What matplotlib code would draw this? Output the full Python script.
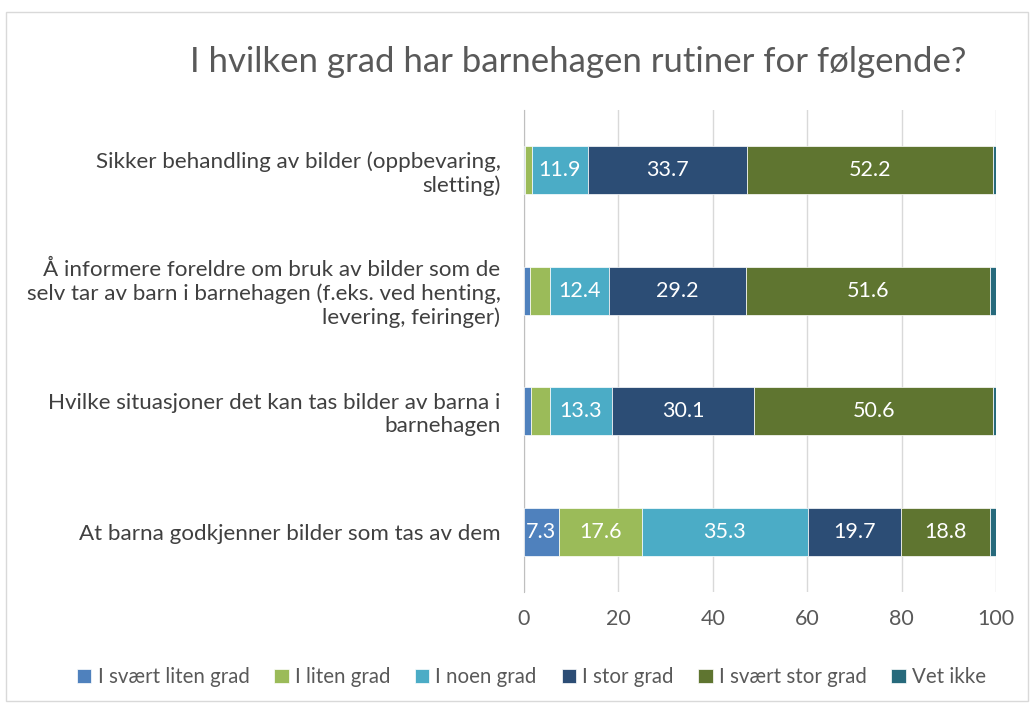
import matplotlib.pyplot as plt
from matplotlib.patches import Rectangle

plt.rcParams['font.family'] = ['Lato', 'DejaVu Sans']

categories = [
    "Sikker behandling av bilder (oppbevaring,\nsletting)",
    "Å informere foreldre om bruk av bilder som de\nselv tar av barn i barnehagen (f.eks. ved henting,\nlevering, feiringer)",
    "Hvilke situasjoner det kan tas bilder av barna i\nbarnehagen",
    "At barna godkjenner bilder som tas av dem",
]
series_names = ["I svært liten grad", "I liten grad", "I noen grad",
                "I stor grad", "I svært stor grad", "Vet ikke"]
svaert_liten = [0.2, 1.3, 1.5, 7.3]
liten = [1.4, 4.2, 3.9, 17.6]
noen = [11.9, 12.4, 13.3, 35.3]
stor = [33.7, 29.2, 30.1, 19.7]
svaert_stor = [52.2, 51.6, 50.6, 18.8]
vet_ikke = [0.6, 1.3, 0.6, 1.3]
colors = ["#4F81BD", "#9BBB59", "#4BACC6", "#2C4D75", "#5F7530", "#276A7C"]

series = [svaert_liten, liten, noen, stor, svaert_stor, vet_ikke]

fig = plt.figure(figsize=(10.32, 7.07), dpi=100)
fig.patches.append(Rectangle((0.006, 0.008), 0.99, 0.975, transform=fig.transFigure,
                             fill=False, edgecolor="#D9D9D9", linewidth=1))
ax = fig.add_axes([0.5078, 0.1627, 0.4574, 0.682])

ypos = list(range(len(categories)))
left = [0.0] * len(categories)
for name, vals, col in zip(series_names, series, colors):
    bars = ax.barh(ypos, vals, left=left, height=0.4, color=col, label=name,
                   edgecolor="white", linewidth=0.5, zorder=3)
    for b, v in zip(bars, vals):
        if v >= 5:
            ax.text(b.get_x() + b.get_width() / 2, b.get_y() + b.get_height() / 2,
                    f"{v:.1f}", ha="center", va="center", color="white",
                    fontsize=15.5, zorder=4)
    left = [l + v for l, v in zip(left, vals)]

ax.set_xlim(0, 100)
ax.set_ylim(3.5, -0.5)
ax.set_xticks(range(0, 101, 20))
ax.set_yticks(ypos)
ax.set_yticklabels(categories, fontsize=16.1, color="#404040", linespacing=1.2)
ax.tick_params(axis="x", labelsize=15.5, colors="#595959", length=0, pad=12)
ax.tick_params(axis="y", length=0, pad=17)
ax.grid(axis="x", color="#D9D9D9", linewidth=1, zorder=0)
for s in ["top", "right", "bottom"]:
    ax.spines[s].set_visible(False)
ax.spines["left"].set_color("#BFBFBF")

fig.text(0.56, 0.912, "I hvilken grad har barnehagen rutiner for følgende?",
         ha="center", va="center", fontsize=25, color="#595959")

fig.legend(loc="center", bbox_to_anchor=(0.515, 0.042), ncol=6, frameon=False,
           fontsize=14.8, handlelength=0.7, handleheight=0.7, handletextpad=0.3,
           columnspacing=1.2, labelcolor="#595959")

fig.savefig("out.png", dpi=100)
